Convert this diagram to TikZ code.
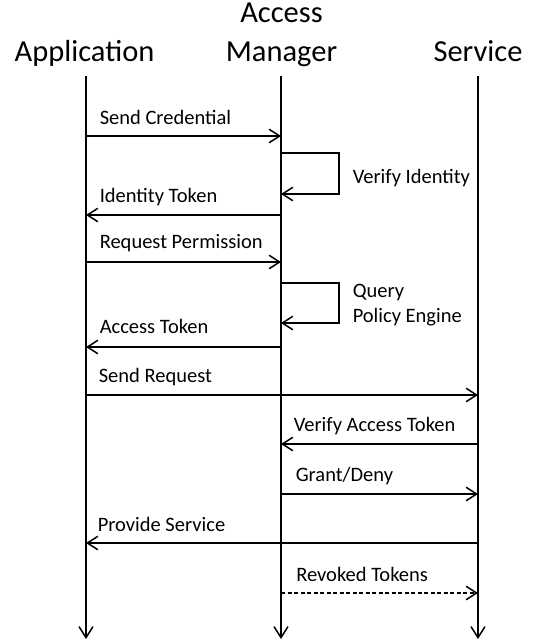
\documentclass[tikz,border=0pt]{standalone}
\usepackage{fontspec}
\setmainfont{Carlito}
\usetikzlibrary{arrows.meta}
\begin{document}
\begin{tikzpicture}[x=1pt,y=-1pt,
  line width=1.5pt,
  head/.style={font=\fontsize{30.5}{36}\selectfont, align=center, inner sep=0pt},
  lbl/.style={font=\fontsize{20.5}{25}\selectfont, anchor=base west, inner sep=0pt},
  msg/.style={-{Straight Barb[length=10.5pt,width=13.5pt,line width=1.5pt]}},
  life/.style={-{Straight Barb[length=11pt,width=14pt,line width=1.5pt]}},
  ret/.style={msg, dash pattern=on 4pt off 2.5pt}]
\useasboundingbox (0,0) rectangle (533,642);
% headers
\node[head, anchor=base] (hApp) at (84.5,61) {Application};
\node[head, anchor=base] (hAcc) at (281.5,22.5) {Access};
\node[head, anchor=base] (hMan) at (281.5,61) {Manager};
\node[head, anchor=base] (hSrv) at (478,61) {Service};
% lifelines
\coordinate (aT) at (86,76);  \coordinate (aB) at (86,639);
\coordinate (mT) at (281,76); \coordinate (mB) at (281,639);
\coordinate (sT) at (478,76); \coordinate (sB) at (478,639);
\draw[life] (aT) -- (aB);
\draw[life] (mT) -- (mB);
\draw[life] (sT) -- (sB);
% messages
\path (86,136) coordinate (m1a) (281,136) coordinate (m1b);
\draw[msg] (m1a) -- (m1b);
\node[lbl] (l1) at (99,124) {Send Credential};
% self loop 1
\path (281,153) coordinate (s1a) (339,153) coordinate (s1b)
      (339,194) coordinate (s1c) (281,194) coordinate (s1d);
\draw[msg] (s1a) -- (s1b) -- (s1c) -- (s1d);
\node[lbl] (l2) at (352,183) {Verify Identity};
\path (281,215) coordinate (m2a) (86,215) coordinate (m2b);
\draw[msg] (m2a) -- (m2b);
\node[lbl] (l3) at (99,202) {Identity Token};
\path (86,262) coordinate (m3a) (281,262) coordinate (m3b);
\draw[msg] (m3a) -- (m3b);
\node[lbl] (l4) at (99,248.5) {Request Permission};
% self loop 2
\path (281,283) coordinate (s2a) (339,283) coordinate (s2b)
      (339,323) coordinate (s2c) (281,323) coordinate (s2d);
\draw[msg] (s2a) -- (s2b) -- (s2c) -- (s2d);
\node[lbl] (l5) at (352,297.5) {Query};
\node[lbl] (l6) at (352,322.5) {Policy Engine};
\path (281,347) coordinate (m4a) (86,347) coordinate (m4b);
\draw[msg] (m4a) -- (m4b);
\node[lbl] (l7) at (99,333.5) {Access Token};
\path (86,395) coordinate (m5a) (478,395) coordinate (m5b);
\draw[msg] (m5a) -- (m5b);
\node[lbl] (l8) at (98,382) {Send Request};
\path (478,444) coordinate (m6a) (281,444) coordinate (m6b);
\draw[msg] (m6a) -- (m6b);
\node[lbl] (l9) at (293,431.5) {Verify Access Token};
\path (281,494) coordinate (m7a) (478,494) coordinate (m7b);
\draw[msg] (m7a) -- (m7b);
\node[lbl] (l10) at (295,481) {Grant/Deny};
\path (478,543) coordinate (m8a) (86,543) coordinate (m8b);
\draw[msg] (m8a) -- (m8b);
\node[lbl] (l11) at (97,531) {Provide Service};
\path (281,593) coordinate (m9a) (478,593) coordinate (m9b);
\draw[ret] (m9a) -- (m9b);
\node[lbl] (l12) at (295.5,581) {Revoked Tokens};
\end{tikzpicture}
\end{document}
